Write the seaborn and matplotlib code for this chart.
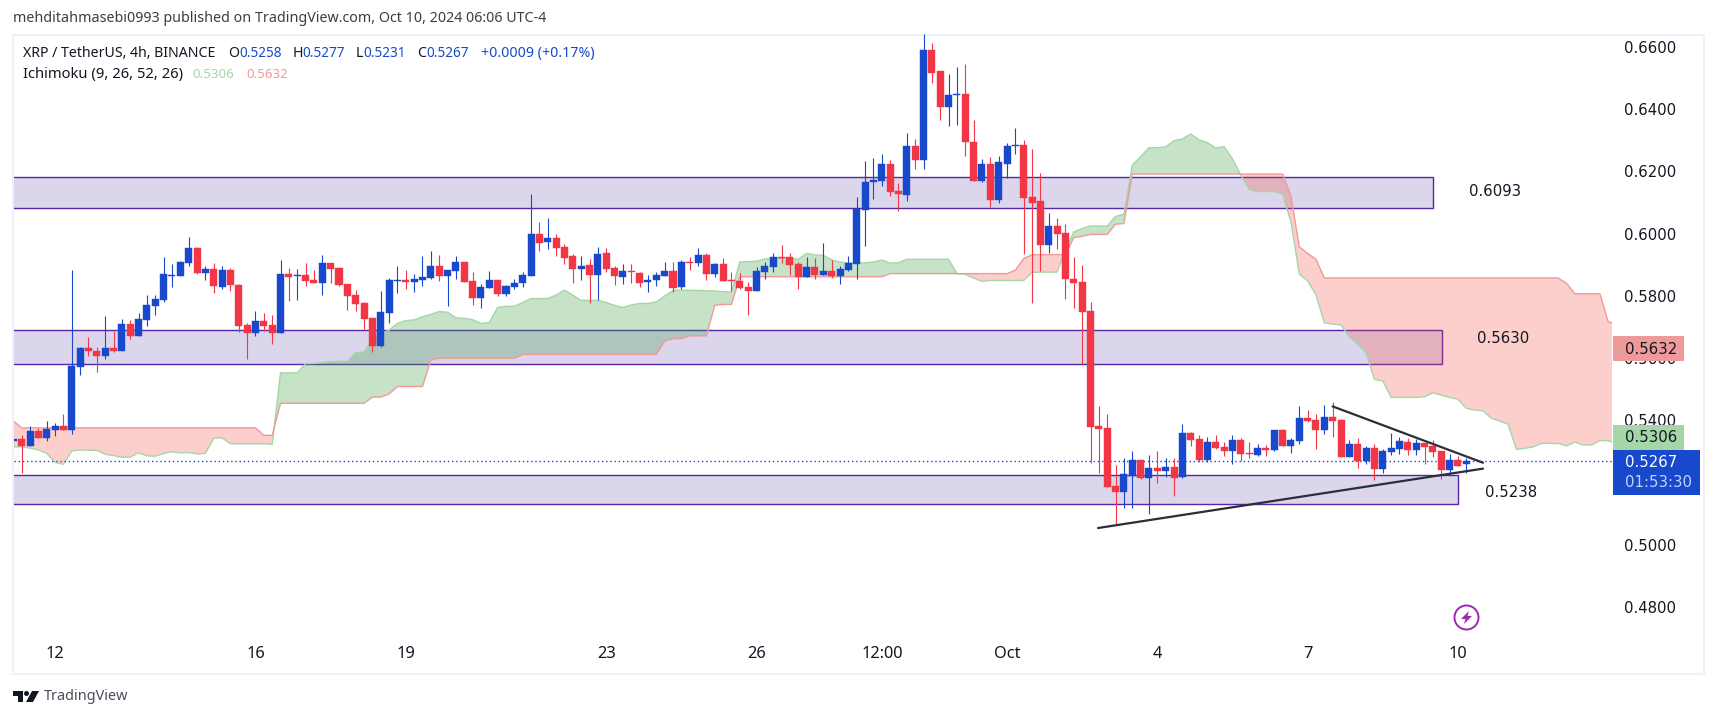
import matplotlib
matplotlib.use('Agg')
import matplotlib.pyplot as plt
from matplotlib.patches import Rectangle, Circle, Polygon
import pandas as pd
import seaborn as sns

W, H = 1717, 718

# candles, first one is bar -5 (bar 0 = Sep 12)
first_bar = -5
opens = [
    .5333, .5339, .5317, .5365, .5343, .5368, .5381, .5368, .5571, .5632,
    .5622, .5606, .5632, .5622, .5709, .5671, .5722, .5767, .5786, .5864,
    .5864, .5905, .5954, .5873, .5886, .5828, .5883, .5835, .5706, .5680,
    .5719, .5706, .5680, .5870, .5864, .5867, .5851, .5841, .5905, .5889,
    .5838, .5802, .5777, .5729, .5638, .5745, .5848, .5851, .5844, .5851,
    .5857, .5896, .5864, .5880, .5909, .5848, .5793, .5825, .5851, .5805,
    .5828, .5841, .5863, .6000, .5972, .5985, .5956, .5927, .5886, .5898,
    .5866, .5937, .5889, .5860, .5879, .5873, .5844, .5850, .5863, .5879,
    .5828, .5908, .5905, .5931, .5870, .5902, .5850, .5847, .5828, .5815,
    .5876, .5892, .5924, .5924, .5902, .5860, .5892, .5866, .5879, .5863,
    .5882, .5901, .6075, .6165, .6168, .6223, .6136, .6123, .6281, .6236,
    .6590, .6522, .6406, .6445, .6448, .6294, .6168, .6223, .6107, .6223,
    .6281, .6284, .6117, .6104, .5962, .6023, .6001, .5853, .5843, .5751,
    .5381, .5375, .5189, .5169, .5221, .5272, .5214, .5246, .5237, .5250,
    .5217, .5359, .5340, .5272, .5330, .5314, .5301, .5336, .5295, .5288,
    .5311, .5304, .5369, .5317, .5333, .5407, .5401, .5369, .5410, .5401,
    .5282, .5324, .5269, .5311, .5243, .5298, .5307, .5330, .5304, .5327,
    .5317, .5301, .5240, .5272, .5258,
]
highs = [
    .5339, .5352, .5381, .5375, .5397, .5391, .5420, .5883, .5635, .5667,
    .5635, .5735, .5687, .5725, .5722, .5745, .5802, .5802, .5925, .5902,
    .5912, .5989, .5957, .5896, .5905, .5896, .5889, .5838, .5712, .5751,
    .5745, .5738, .5915, .5889, .5886, .5905, .5883, .5931, .5905, .5893,
    .5838, .5819, .5780, .5729, .5815, .5857, .5896, .5883, .5870, .5928,
    .5944, .5931, .5883, .5928, .5909, .5876, .5838, .5880, .5851, .5834,
    .5853, .5876, .6127, .6037, .6050, .6000, .5966, .5934, .5927, .5918,
    .5956, .5953, .5895, .5902, .5902, .5876, .5866, .5876, .5908, .5908,
    .5915, .5924, .5953, .5937, .5905, .5921, .5876, .5873, .5844, .5892,
    .5908, .5937, .5963, .5937, .5908, .5924, .5921, .5969, .5915, .5895,
    .5927, .6117, .6233, .6242, .6255, .6236, .6162, .6323, .6303, .6641,
    .6612, .6522, .6512, .6535, .6544, .6364, .6239, .6245, .6249, .6290,
    .6339, .6300, .6271, .6194, .6065, .6049, .6030, .5924, .5898, .5780,
    .5446, .5420, .5256, .5279, .5301, .5272, .5288, .5301, .5279, .5279,
    .5388, .5362, .5352, .5346, .5352, .5330, .5352, .5343, .5330, .5324,
    .5320, .5369, .5372, .5343, .5446, .5433, .5420, .5449, .5459, .5404,
    .5336, .5343, .5317, .5324, .5307, .5359, .5346, .5343, .5340, .5327,
    .5336, .5301, .5291, .5285, .5277,
]
lows = [
    .5315, .5231, .5317, .5343, .5333, .5349, .5368, .5355, .5545, .5606,
    .5555, .5597, .5619, .5622, .5661, .5671, .5703, .5738, .5780, .5828,
    .5864, .5896, .5870, .5851, .5809, .5822, .5815, .5683, .5597, .5671,
    .5687, .5645, .5680, .5783, .5786, .5831, .5841, .5802, .5841, .5831,
    .5754, .5751, .5693, .5619, .5635, .5712, .5809, .5822, .5812, .5831,
    .5854, .5848, .5767, .5854, .5844, .5770, .5761, .5825, .5799, .5799,
    .5821, .5828, .5863, .5944, .5950, .5927, .5902, .5841, .5850, .5776,
    .5786, .5876, .5834, .5837, .5841, .5828, .5812, .5831, .5863, .5812,
    .5821, .5882, .5895, .5850, .5860, .5847, .5815, .5821, .5738, .5815,
    .5853, .5876, .5905, .5866, .5821, .5860, .5853, .5866, .5857, .5837,
    .5879, .5853, .5959, .6110, .6152, .6120, .6072, .6104, .6207, .6207,
    .6483, .6364, .6345, .6348, .6249, .6168, .6165, .6085, .6097, .6178,
    .6255, .5933, .5776, .5879, .5937, .5950, .5789, .5760, .5580, .5262,
    .5230, .5185, .5066, .5118, .5118, .5211, .5098, .5198, .5217, .5156,
    .5214, .5317, .5266, .5266, .5307, .5285, .5259, .5269, .5279, .5285,
    .5285, .5301, .5317, .5295, .5324, .5394, .5307, .5356, .5346, .5282,
    .5282, .5246, .5259, .5208, .5230, .5288, .5291, .5288, .5288, .5259,
    .5282, .5211, .5227, .5253, .5231,
]
closes = [
    .5339, .5317, .5365, .5343, .5372, .5381, .5368, .5574, .5632, .5622,
    .5606, .5632, .5622, .5709, .5671, .5725, .5770, .5790, .5870, .5867,
    .5909, .5954, .5873, .5886, .5831, .5883, .5835, .5703, .5680, .5719,
    .5703, .5680, .5870, .5860, .5867, .5848, .5841, .5905, .5886, .5835,
    .5799, .5774, .5725, .5638, .5748, .5851, .5851, .5844, .5854, .5860,
    .5896, .5864, .5883, .5909, .5844, .5793, .5828, .5851, .5806, .5831,
    .5841, .5866, .6000, .5969, .5985, .5953, .5921, .5886, .5895, .5866,
    .5934, .5886, .5863, .5879, .5876, .5841, .5850, .5866, .5879, .5825,
    .5908, .5905, .5931, .5870, .5902, .5847, .5847, .5825, .5815, .5879,
    .5895, .5924, .5921, .5898, .5860, .5892, .5866, .5879, .5863, .5886,
    .5905, .6080, .6165, .6171, .6223, .6133, .6126, .6281, .6236, .6590,
    .6516, .6406, .6445, .6448, .6294, .6168, .6223, .6107, .6229, .6281,
    .6284, .6114, .6097, .5962, .6023, .5998, .5853, .5840, .5747, .5378,
    .5372, .5185, .5169, .5227, .5272, .5214, .5246, .5237, .5250, .5214,
    .5359, .5336, .5272, .5330, .5311, .5301, .5336, .5291, .5291, .5311,
    .5304, .5369, .5317, .5336, .5407, .5398, .5369, .5410, .5398, .5282,
    .5324, .5269, .5311, .5243, .5301, .5311, .5333, .5304, .5327, .5314,
    .5298, .5240, .5272, .5253, .5267,
]

# ichimoku cloud, also from bar -5
span_a = [
    .5314, .5314, .5310, .5304, .5293, .5264, .5258, .5301, .5304, .5303,
    .5303, .5290, .5286, .5281, .5281, .5295, .5285, .5284, .5293, .5298,
    .5295, .5296, .5291, .5293, .5342, .5343, .5324, .5324, .5324, .5324,
    .5324, .5322, .5552, .5552, .5552, .5582, .5582, .5585, .5588, .5589,
    .5589, .5617, .5619, .5658, .5679, .5689, .5711, .5720, .5722, .5732,
    .5740, .5749, .5747, .5729, .5727, .5723, .5711, .5714, .5762, .5766,
    .5766, .5778, .5791, .5791, .5791, .5802, .5818, .5802, .5785, .5785,
    .5785, .5778, .5769, .5762, .5770, .5775, .5775, .5780, .5799, .5817,
    .5818, .5817, .5817, .5816, .5815, .5813, .5812, .5909, .5909, .5911,
    .5918, .5920, .5920, .5921, .5917, .5936, .5931, .5930, .5915, .5908,
    .5905, .5905, .5906, .5908, .5915, .5905, .5906, .5917, .5917, .5917,
    .5917, .5917, .5917, .5871, .5869, .5857, .5846, .5849, .5849, .5849,
    .5849, .5849, .5875, .5876, .5876, .5876, .5946, .6005, .6016, .6024,
    .6024, .6024, .6055, .6062, .6220, .6247, .6276, .6276, .6279, .6298,
    .6304, .6320, .6301, .6292, .6275, .6279, .6240, .6188, .6142, .6135,
    .6135, .6135, .6127, .6038, .5870, .5848, .5802, .5713, .5709, .5706,
    .5668, .5645, .5617, .5531, .5526, .5473, .5473, .5473, .5473, .5475,
    .5488, .5480, .5473, .5467, .5438, .5432, .5430, .5406, .5397, .5387,
    .5306, .5309, .5314, .5325, .5325, .5325, .5317, .5329, .5320, .5320,
    .5334, .5334, .5323,
]
span_b = [
    .5397, .5375, .5375, .5375, .5375, .5375, .5375, .5375, .5375, .5375,
    .5375, .5375, .5375, .5375, .5375, .5375, .5375, .5375, .5375, .5375,
    .5375, .5375, .5375, .5375, .5375, .5375, .5375, .5375, .5375, .5375,
    .5351, .5351, .5454, .5454, .5454, .5454, .5454, .5454, .5454, .5454,
    .5454, .5454, .5454, .5474, .5474, .5484, .5508, .5508, .5508, .5508,
    .5593, .5599, .5599, .5599, .5599, .5599, .5599, .5599, .5599, .5599,
    .5599, .5611, .5611, .5611, .5611, .5611, .5611, .5611, .5611, .5611,
    .5611, .5611, .5611, .5611, .5611, .5611, .5611, .5611, .5654, .5662,
    .5662, .5671, .5671, .5671, .5769, .5772, .5772, .5861, .5861, .5861,
    .5861, .5861, .5861, .5861, .5861, .5861, .5861, .5861, .5861, .5861,
    .5861, .5861, .5861, .5861, .5861, .5871, .5871, .5871, .5871, .5871,
    .5871, .5871, .5871, .5871, .5871, .5871, .5871, .5871, .5871, .5871,
    .5882, .5919, .5932, .5932, .5932, .5932, .5932, .5987, .5991, .5997,
    .5997, .5997, .6030, .6032, .6191, .6191, .6191, .6191, .6191, .6191,
    .6191, .6191, .6191, .6191, .6191, .6191, .6191, .6191, .6191, .6191,
    .6191, .6191, .6191, .6121, .5957, .5936, .5917, .5857, .5857, .5857,
    .5857, .5857, .5857, .5857, .5857, .5857, .5857, .5857, .5857, .5857,
    .5857, .5857, .5857, .5857, .5857, .5857, .5857, .5857, .5857, .5857,
    .5857, .5857, .5857, .5857, .5857, .5857, .5840, .5806, .5806, .5806,
    .5806, .5716, .5709,
]

# drawn zones: low, high, last bar
zone_lows = [.6081, .5579, .5129]
zone_highs = [.6183, .5689, .5222]
zone_ends = [165.0, 166.1, 168.0]
zone_names = ['0.6093', '0.5630', '0.5238']
zone_label_x = [172.4, 173.4, 174.4]
zone_label_y = [.6134, .5661, .5167]

# triangle lines
upper_x = [153.0, 171.0]
upper_y = [.5444, .5263]
lower_x = [124.9, 171.0]
lower_y = [.5053, .5244]

last_price = .5267
price_ticks = [.48, .50, .52, .54, .56, .58, .60, .62, .64, .66]
time_ticks = [0, 24, 42, 66, 84, 99, 114, 132, 150, 168]
time_labels = ['12', '16', '19', '23', '26', '12:00', 'Oct', '4', '7', '10']

BLUE = '#1848CC'
RED = '#F23645'
INK = '#131722'

sns.set_theme(style='white')
plt.rcParams['font.family'] = ['Noto Sans', 'DejaVu Sans']

fig = plt.figure(figsize=(W / 100, H / 100), dpi=100, facecolor='white')


def px(x, y):
    return x / W, 1 - y / H


# pane frame
fig.add_artist(Rectangle(px(13, 674), 1691 / W, 639 / H, transform=fig.transFigure,
                         fill=False, edgecolor='#F0F0F6', lw=1.5, zorder=-1))

ax = fig.add_axes([14 / W, 1 - 636 / H, 1598 / W, 602 / H])
ax.patch.set_alpha(0)
ax.set_xlim(-4.92, 186.45)
ax.set_ylim(.47058, .66415)
sns.despine(ax=ax, left=True, bottom=True, right=True, top=True)

# zones
for lo, hi, end, name, lx, ly in zip(zone_lows, zone_highs, zone_ends, zone_names, zone_label_x, zone_label_y):
    ax.add_patch(Rectangle((-6, lo), end + 6, hi - lo, facecolor='#DCD6EC', edgecolor='#5327A8', lw=1.0, zorder=1))
    ax.text(lx, ly, name, ha='center', va='center', fontsize=10.7, color=INK, family='DejaVu Sans', zorder=6)

# cloud
cloud = pd.DataFrame({'bar': range(first_bar, first_bar + len(span_a)), 'a': span_a, 'b': span_b})
ax.fill_between(cloud['bar'], cloud['a'], cloud['b'], where=cloud['a'] >= cloud['b'], interpolate=True,
                color=(67 / 255, 160 / 255, 71 / 255, .3), lw=0, zorder=2)
ax.fill_between(cloud['bar'], cloud['a'], cloud['b'], where=cloud['a'] <= cloud['b'], interpolate=True,
                color=(244 / 255, 67 / 255, 54 / 255, .25), lw=0, zorder=2)
sns.lineplot(data=cloud, x='bar', y='a', color='#A5D6A7', lw=1.0, ax=ax, zorder=3, errorbar=None)
sns.lineplot(data=cloud, x='bar', y='b', color='#EF9A9A', lw=1.0, ax=ax, zorder=3, errorbar=None)

# candles
candles = pd.DataFrame({'open': opens, 'high': highs, 'low': lows, 'close': closes})
candles['bar'] = range(first_bar, first_bar + len(candles))
candles['up'] = candles['close'] >= candles['open']
candles['color'] = [BLUE if u else RED for u in candles['up']]
candles['bottom'] = candles[['open', 'close']].min(axis=1)
candles['size'] = (candles['open'] - candles['close']).abs()
ax.vlines(candles['bar'], candles['low'], candles['high'], colors=candles['color'], lw=.8, zorder=4)
ax.bar(candles['bar'], candles['size'], bottom=candles['bottom'], width=.84, color=candles['color'],
       edgecolor=candles['color'], lw=.3, zorder=5)

# last price line
ax.axhline(last_price, color=BLUE, lw=1, ls=(0, (1, 2)), zorder=3.5)

# triangle
sns.lineplot(x=upper_x, y=upper_y, color='#2A2E39', lw=1.6, ax=ax, zorder=7, errorbar=None)
sns.lineplot(x=lower_x, y=lower_y, color='#2A2E39', lw=1.6, ax=ax, zorder=7, errorbar=None)

ax.set_xlabel('')
ax.set_ylabel('')
ax.yaxis.tick_right()
ax.set_yticks(price_ticks)
ax.set_yticklabels([f'{p:.4f}' for p in price_ticks], fontsize=10.7, color=INK, family='DejaVu Sans')
ax.set_xticks(time_ticks)
ax.set_xticklabels(time_labels, fontsize=11.8, color=INK)
ax.tick_params(axis='y', length=0, pad=8.5)
ax.tick_params(axis='x', length=0, pad=7.5)

# price boxes on the axis
for top, bottom, right, col in [(336, 361, 1684, '#EF9A9A'), (425, 450, 1684, '#A5D6A7'), (450, 495, 1700, BLUE)]:
    fig.add_artist(Rectangle(px(1613, bottom), (right - 1613) / W, (bottom - top) / H, transform=fig.transFigure,
                             facecolor=col, edgecolor='none', zorder=5))
for y, s, col in [(349, '0.5632', INK), (438, '0.5306', INK), (462.5, '0.5267', 'white'), (482.5, '01:53:30', '#C5D3F5')]:
    fig.text(*px(1625, y), s, fontsize=10.7, color=col, ha='left', va='center', family='DejaVu Sans', zorder=6)

# header texts
fig.text(*px(13, 19), 'mehditahmasebi0993 published on TradingView.com, Oct 10, 2024 06:06 UTC-4',
         fontsize=10.25, color='#3A3E4A', va='center')
header = [
    (23, 'XRP / TetherUS, 4h, BINANCE', INK, 10.2), (228.5, 'O', INK, 10.2), (239, '0.5258', BLUE, 9.8),
    (293, 'H', INK, 10.2), (302, '0.5277', BLUE, 9.8), (356, 'L', INK, 10.2), (363.6, '0.5231', BLUE, 9.8),
    (417.5, 'C', INK, 10.2), (426.7, '0.5267', BLUE, 9.8), (480.7, '+0.0009 (+0.17%)', BLUE, 10.2),
]
for x, s, col, size in header:
    fig.text(*px(x, 53.7), s, fontsize=size, color=col, va='center')
fig.text(*px(23, 74.5), 'Ichimoku (9, 26, 52, 26)', fontsize=10.6, color=INK, va='center')
fig.text(*px(192.5, 74.5), '0.5306', fontsize=9.6, color='#A5D6A7', va='center')
fig.text(*px(246.8, 74.5), '0.5632', fontsize=9.6, color='#EF9A9A', va='center')

# flash icon
flash = fig.add_axes([1453 / W, 1 - 631 / H, 27 / W, 27 / H])
flash.set_xlim(0, 27)
flash.set_ylim(27, 0)
flash.axis('off')
flash.add_patch(Circle((13.5, 13.5), 12, fill=False, edgecolor='#9C27B0', lw=1.4))
flash.add_patch(Polygon([(16, 7), (8, 15), (12.5, 15), (11, 20), (19, 12), (14.5, 12)], color='#9C27B0', lw=0))

# logo
logo = fig.add_axes([13 / W, 1 - 704 / H, 26 / W, 14 / H])
logo.set_xlim(0, 26)
logo.set_ylim(14, 0)
logo.axis('off')
logo.add_patch(Polygon([(0, 1), (10, 1), (10, 12), (5, 12), (5, 6), (0, 6)], color=INK, lw=0))
logo.add_patch(Circle((13.5, 3.5), 2.5, color=INK, lw=0))
logo.add_patch(Polygon([(19, 1), (26, 1), (20, 12), (13, 12)], color=INK, lw=0))
fig.text(*px(44, 697), 'TradingView', fontsize=10.4, color='#4A4E5A', va='center')

plt.savefig('out.png', dpi=100)
